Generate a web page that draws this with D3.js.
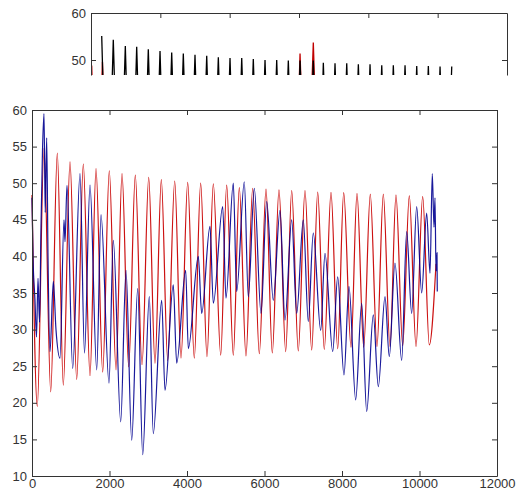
<!DOCTYPE html>
<html>
<head>
<meta charset="utf-8">
<script src="https://cdn.jsdelivr.net/npm/d3@7"></script>
<style>
  body { margin: 0; background: #fff; }
  svg { display: block; }
  .tick text { font-family: "Liberation Sans", Arial, sans-serif; font-size: 13px; fill: #333; }
</style>
</head>
<body>
<div id="chart"></div>
<script>
// ---- data (x in samples, y in value) ----
// main panel, red series: alternating peaks / troughs
var redX = [0, 137, 310, 483, 653, 808, 981, 1154, 1324, 1497, 1652, 1824, 1995, 2168, 2323, 2495,
    2666, 2839, 3012, 3174, 3337, 3502, 3683, 3845, 4018, 4188, 4353, 4516, 4679, 4870, 5024, 5195,
    5350, 5522, 5695, 5866, 6039, 6201, 6374, 6547, 6702, 6872, 7045, 7218, 7373, 7543, 7716, 7889,
    8044, 8232, 8387, 8560, 8730, 8903, 9066, 9239, 9393, 9566, 9737, 9910, 10082, 10253, 10426];
var redY = [48.4, 19.5, 54.8, 21.5, 54.1, 22.4, 52.9, 23.2, 52.6, 23.7, 52.0, 24.2, 51.7, 24.5, 51.3, 24.9,
    51.1, 25.2, 50.8, 25.4, 50.5, 25.8, 50.3, 26.1, 50.1, 26.1, 50.0, 26.3, 49.9, 26.5, 49.75, 26.5,
    49.4, 26.4, 49.3, 26.7, 49.2, 26.8, 49.1, 27.0, 49.0, 27.1, 49.0, 27.2, 48.8, 27.3, 48.75, 27.4,
    48.7, 27.6, 48.6, 27.6, 48.5, 27.7, 48.5, 27.7, 48.4, 27.8, 48.3, 27.7, 48.2, 27.9, 39];

// main panel, blue series
var blueX = [0, 26, 77, 116, 155, 194, 232, 271, 310, 341, 379, 413, 465, 550, 619, 723, 826, 852, 903,
    1050, 1239, 1355, 1497, 1670, 1781, 1987, 2098, 2289, 2426, 2573, 2728, 2857, 3027, 3130, 3347,
    3432, 3646, 3734, 3966, 4034, 4292, 4379, 4593, 4679, 4921, 5006, 5195, 5282, 5479, 5582, 5737,
    5910, 6057, 6227, 6400, 6529, 6702, 6831, 7001, 7130, 7259, 7450, 7561, 7760, 7889, 8051, 8180,
    8353, 8508, 8637, 8808, 8937, 9110, 9221, 9367, 9540, 9669, 9798, 9927, 10056, 10185, 10271,
    10330, 10374, 10400, 10426, 10452, 10459];
var blueY = [48, 40, 34, 29, 37, 31, 44, 54.5, 59.5, 46, 56.2, 40, 27, 36.6, 30, 26.1, 45, 42, 49.7,
    24.7, 51.3, 26.8, 49.75, 24.5, 45.7, 22.7, 42.2, 17.4, 38.1, 14.9, 35.6, 12.9, 34.5, 15.8, 34,
    21.7, 36.1, 25.4, 38.1, 27.4, 40, 32.2, 44.1, 33.6, 46.8, 34.3, 50, 35.2, 50.2, 34.5, 49.3,
    32.2, 47.5, 34, 46.3, 31.3, 45, 32.2, 45, 31.1, 43.2, 29.9, 40.4, 27, 37.2, 23.8, 35.9,
    20.4, 33.6, 18.8, 32, 22.2, 34.5, 26.3, 39.1, 25.8, 43.4, 32.2, 46.8, 35, 45.9, 37.7,
    51.3, 44, 48, 38, 40.5, 35.2];

// top panel (only its upper strip is visible): black peaks and red spikes
var topBlackX = [309, 643, 990, 1318, 1653, 1991, 2328, 2663, 3000, 3338, 3673, 4010, 4348, 4682,
    5020, 5357, 5692, 6030, 6413, 6702, 7039, 7377, 7712, 8049, 8387, 8721, 9059, 9396, 9731,
    10069, 10406];
var topBlackY = [55.1, 54.3, 53.0, 52.8, 52.3, 51.9, 51.6, 51.4, 51.1, 50.9, 50.6, 50.4, 50.4, 50.2,
    50.0, 50.0, 49.9, 49.9, 49.9, 49.4, 49.3, 49.3, 49.1, 49.1, 48.9, 48.9, 48.9, 48.7, 48.7,
    48.6, 48.6];
var topBlackLow = 10;
var topRedX = [0, 20, 170, 330, 490, 5870, 6030, 6210, 6413, 6590];
var topRedY = [44, 48.8, 10, 49.6, 10, 10, 51.4, 10, 53.7, 10];

var xTicks = [0, 2000, 4000, 6000, 8000, 10000, 12000];
var yTicks = [10, 15, 20, 25, 30, 35, 40, 45, 50, 55, 60];
var topYTicks = [50, 60];

var W = 518, H = 499;
var svg = d3.select("#chart").append("svg")
    .attr("width", W).attr("height", H);

function styleAxis(g, labels) {
    g.select(".domain").attr("stroke", "#333");
    g.selectAll(".tick line").attr("stroke", "#333");
    if (!labels) g.selectAll(".tick text").remove();
}

// ---------- top panel ----------
var xt = d3.scaleLinear().domain([0, 12000]).range([91, 507]);
var yt = d3.scaleLinear().domain([50, 60]).range([60, 13]);
var topBottom = 75;

svg.append("clipPath").attr("id", "clipTop")
    .append("rect").attr("x", 91).attr("y", 13).attr("width", 416).attr("height", topBottom - 13);

// black series goes down between peaks (troughs are far below the visible strip)
var blackPts = [];
topBlackX.forEach(function(d, i) {
    if (i > 0) blackPts.push([(topBlackX[i - 1] + d) / 2, topBlackLow]);
    blackPts.push([d, topBlackY[i]]);
});
var lineTop = d3.line()
    .x(function(d) { return xt(d[0]); })
    .y(function(d) { return yt(d[1]); });

var gTop = svg.append("g").attr("clip-path", "url(#clipTop)");
gTop.append("path").datum(topRedX.map(function(d, i) { return [d, topRedY[i]]; }))
    .attr("d", lineTop).attr("fill", "none").attr("stroke", "#c00000").attr("stroke-width", 1.3);
gTop.append("path").datum(blackPts)
    .attr("d", lineTop).attr("fill", "none").attr("stroke", "#000").attr("stroke-width", 1.3);

// top panel box: left, right and top edges only (bottom is cut off)
var ytAxisRange = d3.scaleLinear().domain([yt.invert(topBottom), 60]).range([topBottom, 13]);
svg.append("g").attr("transform", "translate(91,0)")
    .call(d3.axisLeft(ytAxisRange).tickValues(topYTicks).tickSizeInner(-5).tickSizeOuter(0).tickPadding(5))
    .call(function(g) { styleAxis(g, true); });
svg.append("g").attr("transform", "translate(507,0)")
    .call(d3.axisRight(ytAxisRange).tickValues(topYTicks).tickSizeInner(-5).tickSizeOuter(0))
    .call(function(g) { styleAxis(g, false); });
svg.append("g").attr("transform", "translate(0,13)")
    .call(d3.axisTop(xt).tickValues(xTicks.slice(1, -1)).tickSizeInner(-5).tickSizeOuter(0))
    .call(function(g) { styleAxis(g, false); });

// ---------- main panel ----------
var x = d3.scaleLinear().domain([0, 12000]).range([32, 497]);
var y = d3.scaleLinear().domain([10, 60]).range([476, 110]);

var line = d3.line()
    .x(function(d) { return x(d[0]); })
    .y(function(d) { return y(d[1]); })
    .curve(d3.curveMonotoneX);

svg.append("path").datum(redX.map(function(d, i) { return [d, redY[i]]; }))
    .attr("d", line).attr("fill", "none").attr("stroke", "#cc1111").attr("stroke-width", 1.2);
svg.append("path").datum(blueX.map(function(d, i) { return [d, blueY[i]]; }))
    .attr("d", line).attr("fill", "none").attr("stroke", "#000090").attr("stroke-width", 1.2)
    .attr("stroke-opacity", 0.9);

svg.append("g").attr("transform", "translate(0,476)")
    .call(d3.axisBottom(x).tickValues(xTicks).tickFormat(d3.format("d"))
        .tickSizeInner(-5).tickSizeOuter(0).tickPadding(3))
    .call(function(g) { styleAxis(g, true); });
svg.append("g").attr("transform", "translate(0,110)")
    .call(d3.axisTop(x).tickValues(xTicks).tickSizeInner(-5).tickSizeOuter(0))
    .call(function(g) { styleAxis(g, false); });
svg.append("g").attr("transform", "translate(32,0)")
    .call(d3.axisLeft(y).tickValues(yTicks).tickSizeInner(-5).tickSizeOuter(0).tickPadding(5))
    .call(function(g) { styleAxis(g, true); });
svg.append("g").attr("transform", "translate(497,0)")
    .call(d3.axisRight(y).tickValues(yTicks).tickSizeInner(-5).tickSizeOuter(0))
    .call(function(g) { styleAxis(g, false); });
</script>
</body>
</html>
